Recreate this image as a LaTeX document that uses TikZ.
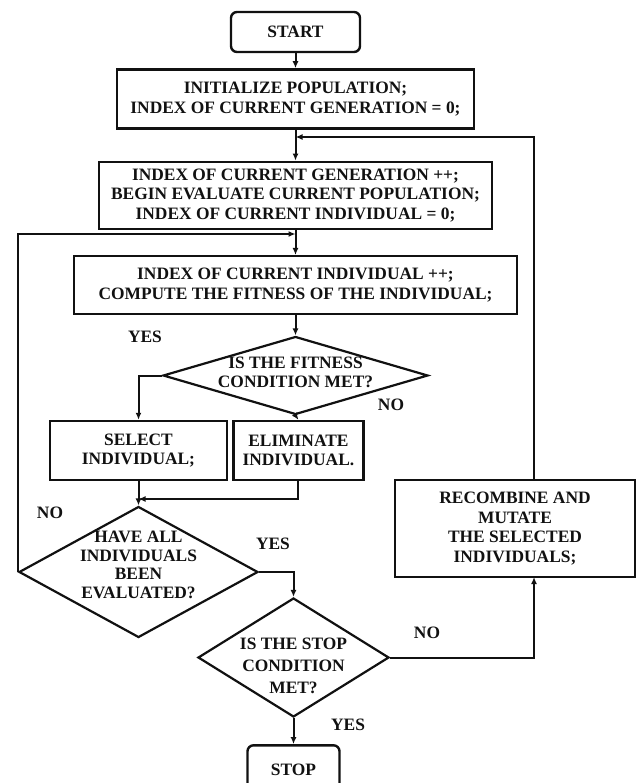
\documentclass[tikz,border=0pt]{standalone}
\usepackage{fontspec}
\setmainfont{Liberation Serif}
\usepackage{tikz}
\usetikzlibrary{positioning,arrows.meta,shapes.geometric}
\definecolor{flowInk}{HTML}{111111}
\newcommand{\flowfont}{\fontsize{17.4}{19.5}\selectfont\bfseries}
\tikzset{
  box/.style={draw=flowInk, line width=2.4pt, inner sep=2pt, align=center, font=\flowfont, text=flowInk},
  procBox/.style={box},
  termBox/.style={box, rounded corners=6pt},
  decision/.style={diamond, draw=flowInk, line width=2.2pt, inner sep=0pt},
  decText/.style={align=center, font=\flowfont, text=flowInk},
  ansLabel/.style={font=\flowfont, text=flowInk},
  arrow/.style={-{Latex[length=7pt,width=6pt]}, line width=2pt, draw=flowInk}
}

\begin{document}
\begin{tikzpicture}[x=1pt, y=-1pt]
  \useasboundingbox (0,0) rectangle (638,783);
  % main column
  \node[termBox, minimum width=129pt, minimum height=40pt] (start) at (295.5,32) {START};
  \node[procBox, below=15pt of start, minimum width=357pt, minimum height=59pt] (init) {INITIALIZE POPULATION;\\INDEX OF CURRENT GENERATION = 0;};
  \node[procBox, below=31pt of init, minimum width=393pt, minimum height=67pt] (gen) {INDEX OF CURRENT GENERATION ++;\\BEGIN EVALUATE CURRENT POPULATION;\\INDEX OF CURRENT INDIVIDUAL = 0;};
  \node[procBox, below=25pt of gen, minimum width=443pt, minimum height=58pt] (indiv) {INDEX OF CURRENT INDIVIDUAL ++;\\COMPUTE THE FITNESS OF THE INDIVIDUAL;};
  \node[decision, below=20pt of indiv, minimum width=265pt, minimum height=78pt] (fit) {};
  \node[decText, yshift=3pt] (fitText) at (fit) {IS THE FITNESS\\CONDITION MET?};
  \node[procBox, minimum width=177pt, minimum height=59pt] (select) at (138.5,450.5) {SELECT\\INDIVIDUAL;};
  \node[procBox, right=4pt of select, minimum width=130pt, minimum height=59pt] (elim) {ELIMINATE\\INDIVIDUAL.};
  \node[decision, minimum width=239pt, minimum height=131pt] (have) at (138.5,572) {};
  \node[decText, yshift=7pt, font=\fontsize{17.4}{18.5}\selectfont\bfseries] (haveText) at (have) {HAVE ALL\\INDIVIDUALS\\BEEN\\EVALUATED?};
  \node[decision, minimum width=191pt, minimum height=119pt] (stopQ) at (293.5,657.5) {};
  \node[decText, yshift=-8pt, font=\fontsize{17.4}{22}\selectfont\bfseries] (stopQText) at (stopQ) {IS THE STOP\\CONDITION\\MET?};
  \node[termBox, below=26pt of stopQ, minimum width=92pt, minimum height=50pt] (stop) {STOP};
  \node[procBox, minimum width=240pt, minimum height=97pt] (recomb) at (515,528.5) {RECOMBINE AND\\MUTATE\\THE SELECTED\\INDIVIDUALS;};

  % junctions
  \coordinate (jGen) at (295.5,137);
  \coordinate (jInd) at (295.5,234);
  \coordinate (jSel) at (138.5,499);
  \coordinate (recIn) at (534,577);
  \coordinate (recOut) at (534,480);

  % connectors
  \draw[arrow] (start) -- (init);
  \draw[arrow] (init) -- (gen);
  \draw[arrow] (gen) -- (indiv);
  \draw[arrow] (indiv) -- (fit);
  \draw[arrow] (fit.south) -- (elim.north);
  \draw[arrow] (fit.west) -| (select.north);
  \draw[arrow] (select.south) -- (have.north);
  \draw[arrow] (elim.south) |- (jSel);
  \draw[arrow] (have.east) -| (stopQ.north);
  \draw[arrow] (have.west) |- (jInd);
  \draw[arrow] (stopQ) -- (stop);
  \draw[arrow] (stopQ.east) -| (recIn);
  \draw[arrow] (recOut) |- (jGen);

  % answers
  \node[ansLabel] (yesFit) at (145,337) {YES};
  \node[ansLabel] (noFit) at (391,405) {NO};
  \node[ansLabel] (noHave) at (50,513) {NO};
  \node[ansLabel] (yesHave) at (273,544) {YES};
  \node[ansLabel] (noStop) at (427,633) {NO};
  \node[ansLabel] (yesStop) at (348,725) {YES};
\end{tikzpicture}
\end{document}
